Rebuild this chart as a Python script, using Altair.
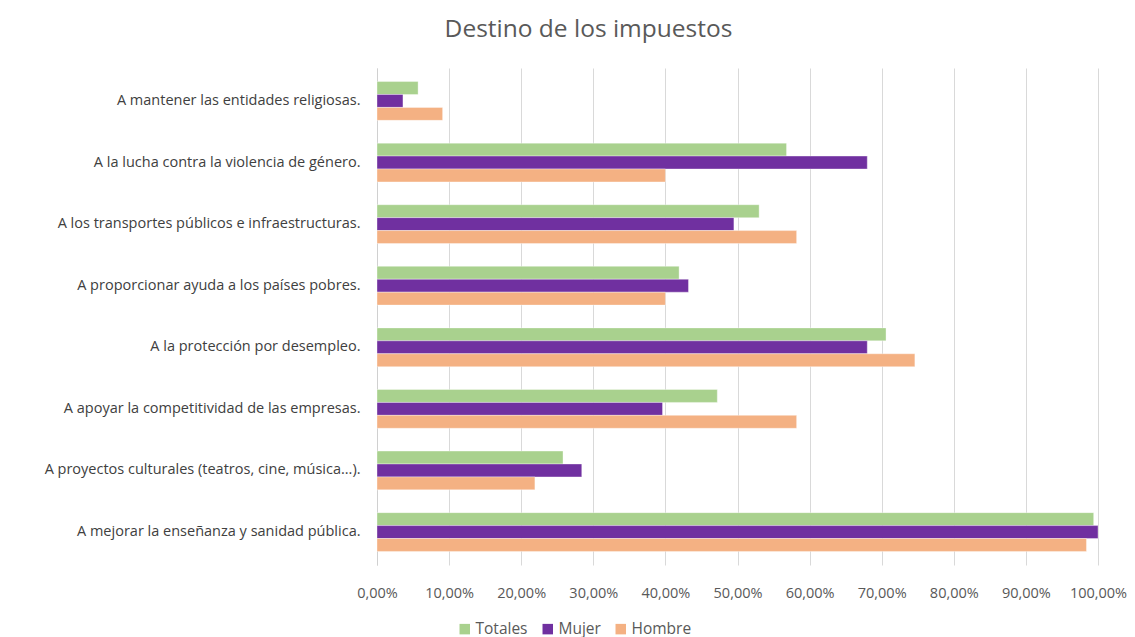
import altair as alt
import pandas as pd

categories = [
    "A mantener las entidades religiosas.",
    "A la lucha contra la violencia de género.",
    "A los transportes públicos e infraestructuras.",
    "A proporcionar ayuda a los países pobres.",
    "A la protección por desempleo.",
    "A apoyar la competitividad de las empresas.",
    "A proyectos culturales (teatros, cine, música...).",
    "A mejorar la enseñanza y sanidad pública.",
]
series = ["Totales", "Mujer", "Hombre"]
totales = [0.057, 0.568, 0.530, 0.419, 0.706, 0.472, 0.258, 0.994]
mujer = [0.036, 0.680, 0.495, 0.432, 0.680, 0.396, 0.284, 1.000]
hombre = [0.091, 0.400, 0.582, 0.400, 0.746, 0.582, 0.219, 0.984]
colors = ["#A9D18E", "#7030A0", "#F4B183"]
x_ticks = [0, 0.1, 0.2, 0.3, 0.4, 0.5, 0.6, 0.7, 0.8, 0.9, 1.0]

rows = []
for s, vals in zip(series, [totales, mujer, hombre]):
    for c, v in zip(categories, vals):
        rows.append({"categoria": c, "serie": s, "valor": v})
df = pd.DataFrame(rows)

FONT = "Open Sans"

chart = (
    alt.Chart(df)
    .mark_bar(stroke="white", strokeWidth=0.6, strokeOpacity=0.6)
    .encode(
        y=alt.Y(
            "categoria:N",
            sort=categories,
            title=None,
            scale=alt.Scale(paddingInner=0.37, paddingOuter=0.22),
            axis=alt.Axis(
                ticks=False,
                labelPadding=17,
                labelFontSize=14.5,
                labelColor="#404040",
                labelFont=FONT,
                labelLimit=420,
                domainColor="#d0d0d0",
                minExtent=369,
                maxExtent=369,
            ),
        ),
        yOffset=alt.YOffset("serie:N", sort=series, scale=alt.Scale(paddingInner=0, paddingOuter=0)),
        x=alt.X(
            "valor:Q",
            title=None,
            scale=alt.Scale(domain=[0, 1], nice=False),
            axis=alt.Axis(
                values=x_ticks,
                labelExpr="replace(format(datum.value, '.2%'), '.', ',')",
                grid=True,
                gridColor="#d9d9d9",
                domain=False,
                ticks=False,
                labelPadding=21,
                labelFontSize=14.5,
                labelColor="#595959",
                labelFont=FONT,
                labelOverlap=False,
                labelFlush=False,
            ),
        ),
        color=alt.Color(
            "serie:N",
            sort=series,
            scale=alt.Scale(domain=series, range=colors),
            legend=alt.Legend(
                title=None,
                orient="none",
                direction="horizontal",
                legendX=80,
                legendY=553,
                symbolType="square",
                symbolSize=110,
                symbolStrokeWidth=0,
                labelFontSize=15.5,
                labelFont=FONT,
                labelColor="#595959",
                columnPadding=12,
                labelOffset=3,
            ),
        ),
    )
    .properties(
        width=721,
        height=497,
        padding={"left": 0, "top": 8, "right": 0, "bottom": 0},
        title=alt.TitleParams(
            "Destino de los impuestos",
            fontSize=24.5,
            font=FONT,
            fontWeight="normal",
            color="#595959",
            anchor="middle",
            frame="group",
            dx=-149,
            offset=26,
        ),
    )
    .configure_view(stroke=None)
)

chart.save("out.html", embed_options={"renderer": "svg", "actions": False})
